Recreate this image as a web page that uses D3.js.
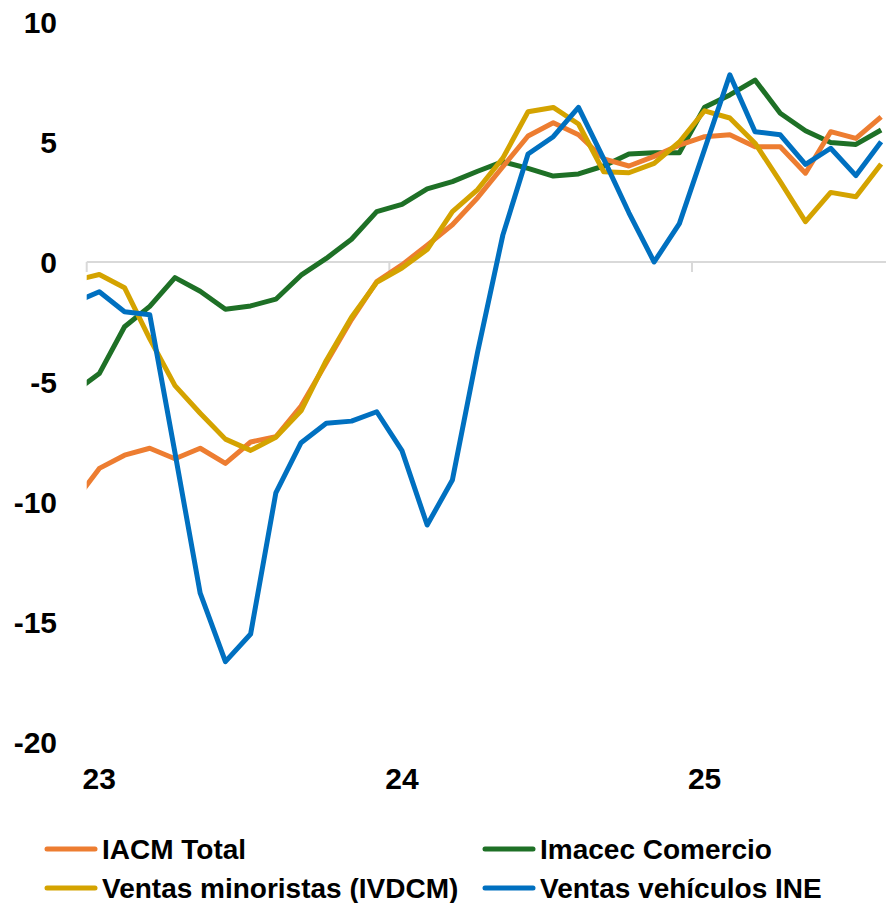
<!DOCTYPE html>
<html>
<head>
<meta charset="utf-8">
<script src="https://d3js.org/d3.v7.min.js"></script>
<style>
  body { margin: 0; background: #fff; }
  text { font-family: "Liberation Sans", Arial, sans-serif; font-weight: bold; fill: #000; }
</style>
</head>
<body>
<script>
// monthly, Dec-22 (clipped at left edge) .. Aug-25
var months = d3.range(-1, 32);   // 0 = Jan 2023
var yearLabels = ["23", "24", "25"];
var yearStart = [0, 12, 24];
var yTicks = [-20, -15, -10, -5, 0, 5, 10];

var iacm = [-10.0, -8.6, -8.05, -7.76, -8.2, -7.76, -8.39, -7.5, -7.28, -6.0, -4.2, -2.4,
  -0.82, -0.12, 0.7, 1.55, 2.68, 3.97, 5.25, 5.8, 5.3, 4.3, 4.0, 4.4,
  4.87, 5.22, 5.3, 4.8, 4.8, 3.7, 5.43, 5.15, 6.05];

var imacec = [-5.43, -4.65, -2.7, -1.85, -0.65, -1.22, -1.97, -1.83, -1.55, -0.55, 0.15, 0.95,
  2.1, 2.4, 3.05, 3.35, 3.78, 4.18, 3.9, 3.58, 3.67, 4.0, 4.5, 4.55,
  4.55, 6.45, 6.96, 7.58, 6.2, 5.47, 4.98, 4.9, 5.5];

var ivdcm = [-0.78, -0.52, -1.07, -3.2, -5.15, -6.3, -7.38, -7.85, -7.3, -6.2, -4.1, -2.3,
  -0.85, -0.25, 0.52, 2.1, 3.02, 4.33, 6.26, 6.44, 5.75, 3.76, 3.72, 4.11,
  5.0, 6.3, 6.0, 4.95, 3.35, 1.68, 2.9, 2.72, 4.08];

var vehiculos = [-1.69, -1.24, -2.07, -2.2, -7.95, -13.8, -16.65, -15.5, -9.62, -7.53, -6.72, -6.63,
  -6.24, -7.86, -10.96, -9.08, -3.75, 1.12, 4.5, 5.22, 6.44, 4.3, 2.05, 0.0,
  1.6, 4.7, 7.8, 5.43, 5.3, 4.07, 4.74, 3.6, 5.01];

var series = [
  {name: "IACM Total", values: iacm, color: "#ED7D31"},
  {name: "Imacec Comercio", values: imacec, color: "#1E7026"},
  {name: "Ventas minoristas (IVDCM)", values: ivdcm, color: "#D4A300"},
  {name: "Ventas vehículos INE", values: vehiculos, color: "#0070C0"}
];
// draw order: green, orange, yellow, blue on top
var drawOrder = [1, 0, 2, 3];

var width = 886, height = 903;
var left = 86.7, monthW = 25.22;

var svg = d3.select("body").append("svg")
  .attr("width", width).attr("height", height);

var x = d3.scaleLinear().domain([0, 32]).range([left, left + 32 * monthW]);
var y = d3.scaleLinear().domain([-20, 10]).range([742, 22]);

svg.append("defs").append("clipPath").attr("id", "plot")
  .append("rect").attr("x", left).attr("y", 0).attr("width", width - left).attr("height", 800);

// y labels
svg.selectAll(".ylab").data(yTicks).enter().append("text")
  .attr("x", 57).attr("y", function(d) { return y(d); })
  .attr("dy", "0.36em")
  .attr("text-anchor", "end")
  .style("font-size", "30px")
  .text(function(d) { return d; });

// zero line + year ticks
svg.append("line")
  .attr("x1", left).attr("x2", width)
  .attr("y1", y(0)).attr("y2", y(0))
  .style("stroke", "#d9d9d9").style("stroke-width", 2);

svg.selectAll(".tick").data(yearStart).enter().append("line")
  .attr("x1", function(d) { return x(d); }).attr("x2", function(d) { return x(d); })
  .attr("y1", y(0)).attr("y2", y(0) + 10)
  .style("stroke", "#d9d9d9").style("stroke-width", 2);

// x labels, centred on January
svg.selectAll(".xlab").data(yearLabels).enter().append("text")
  .attr("x", function(d, i) { return x(yearStart[i] + 0.5); })
  .attr("y", 789)
  .attr("text-anchor", "middle")
  .style("font-size", "30px")
  .text(function(d) { return d; });

var line = d3.line()
  .x(function(d, i) { return x(months[i] + 0.5); })
  .y(function(d) { return y(d); });

var g = svg.append("g").attr("clip-path", "url(#plot)");
drawOrder.forEach(function(k) {
  g.append("path")
    .attr("d", line(series[k].values))
    .style("fill", "none")
    .style("stroke", series[k].color)
    .style("stroke-width", 5)
    .style("stroke-linejoin", "round");
});

// legend
var legPos = [[45, 849], [483, 849], [45, 888], [483, 888]];
series.forEach(function(s, i) {
  var p = legPos[i];
  svg.append("line")
    .attr("x1", p[0] + 2).attr("x2", p[0] + 50)
    .attr("y1", p[1]).attr("y2", p[1])
    .style("stroke", s.color).style("stroke-width", 5)
    .style("stroke-linecap", "round");
  svg.append("text")
    .attr("x", p[0] + 57).attr("y", p[1])
    .attr("dy", "0.36em")
    .style("font-size", "28px")
    .text(s.name);
});
</script>
</body>
</html>
